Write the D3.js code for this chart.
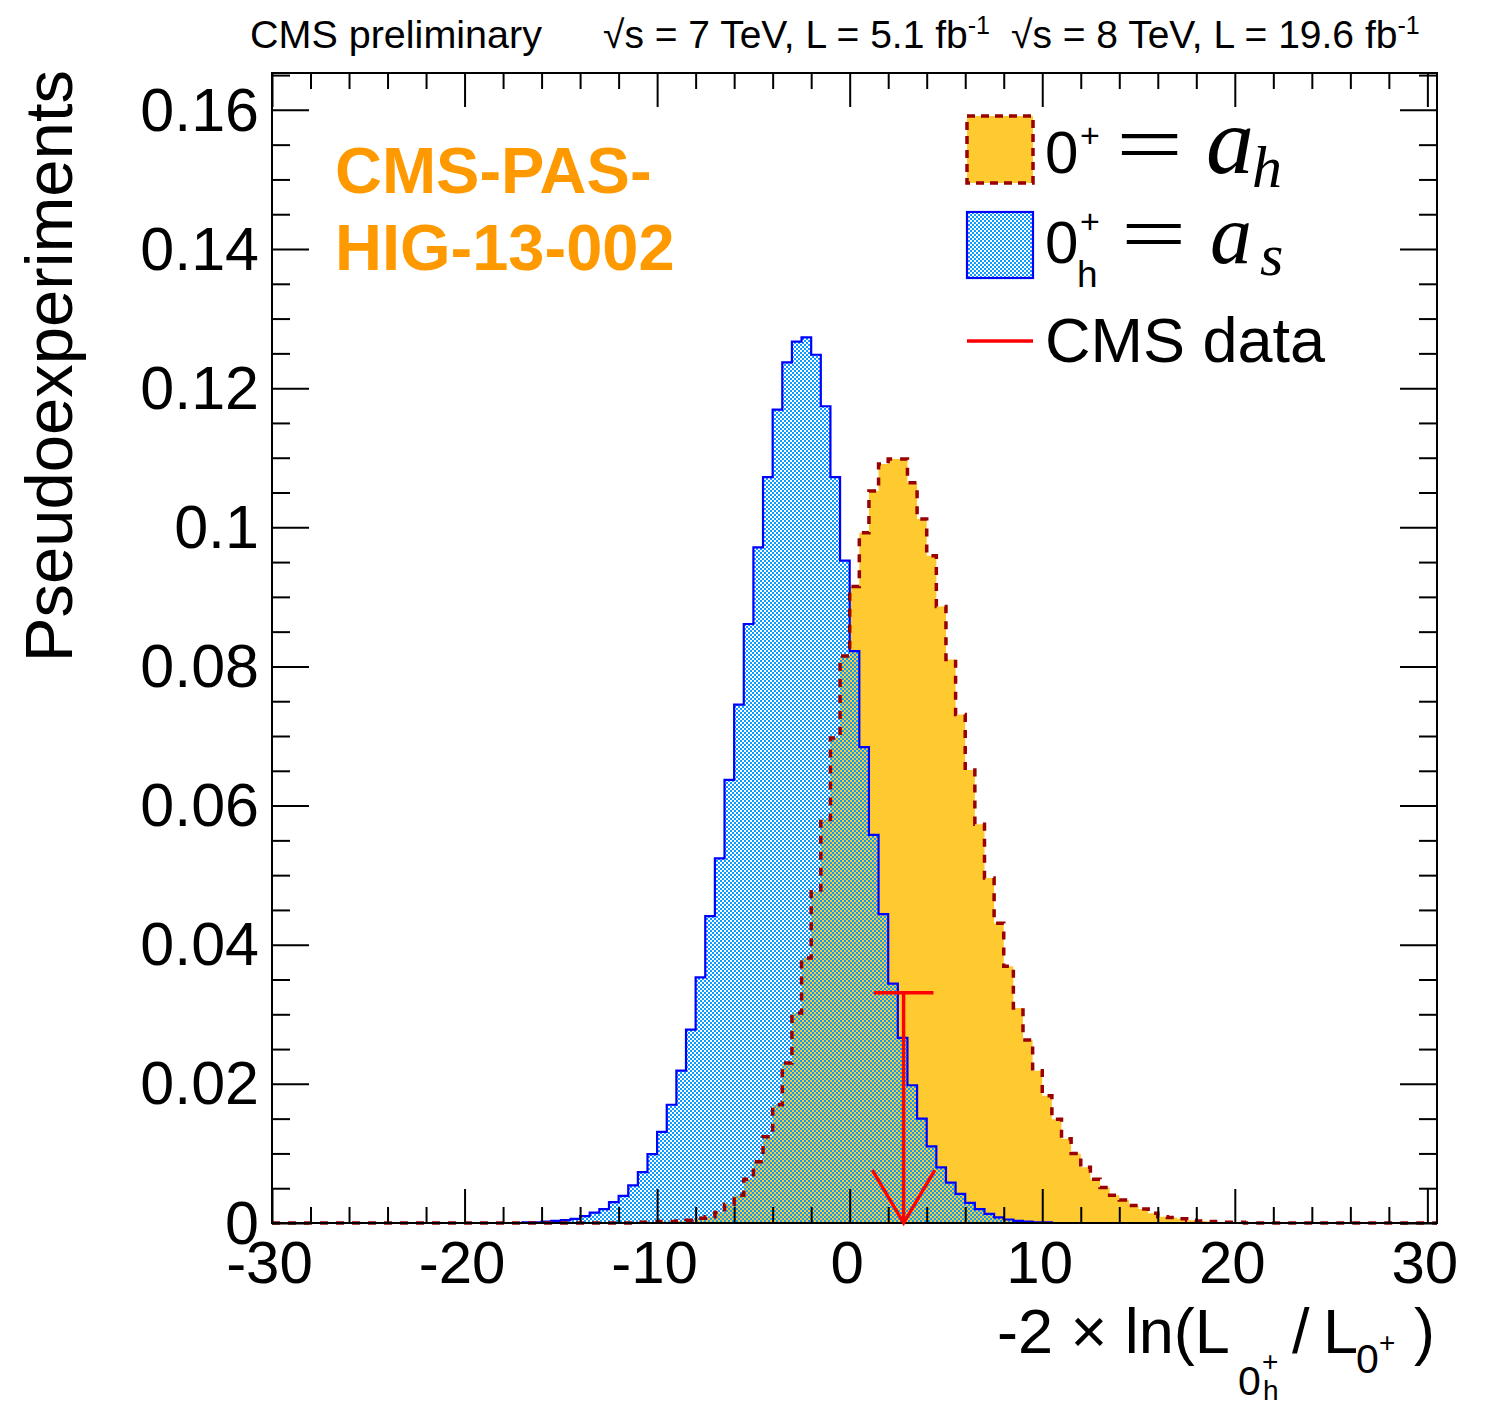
<!DOCTYPE html>
<html lang="en">
<head>
<meta charset="utf-8">
<script src="https://d3js.org/d3.v7.min.js"></script>
<title>Pseudoexperiments</title>
<style>
  body { margin: 0; background: #fff; }
  text { font-family: "Liberation Sans", Helvetica, Arial, sans-serif; }
  .math { font-family: "Liberation Serif", "DejaVu Serif", serif; font-style: italic; }
</style>
</head>
<body>
<div id="chart"></div>
<script>
// histogram binning (0.5 wide bins)
var binWidth = 0.5;

// 0h+ = a_s  (blue), first bin starts at -17
var blueStart = -17;
var blueValues = [0.0001, 0.0001, 0.0002, 0.0003, 0.0004, 0.0006, 0.0010, 0.0015, 0.0020, 0.0030,
  0.0039, 0.0054, 0.0073, 0.0099, 0.0131, 0.0170, 0.0219, 0.0278, 0.0353, 0.0441,
  0.0524, 0.0637, 0.0745, 0.0861, 0.0971, 0.1072, 0.1169, 0.1237, 0.1267, 0.1273,
  0.1248, 0.1174, 0.1072, 0.0952, 0.0822, 0.0684, 0.0558, 0.0444, 0.0344, 0.0266,
  0.0198, 0.0150, 0.0110, 0.0080, 0.0058, 0.0042, 0.0029, 0.0020, 0.0013, 0.0008,
  0.0005, 0.0003, 0.0002, 0.0001, 0.0001];

// 0+ = a_h  (orange), first bin starts at -11
var orangeStart = -11;
var orangeValues = [0.0001, 0.0001, 0.0002, 0.0002, 0.0003, 0.0004, 0.0007, 0.0009, 0.0015, 0.0027,
  0.0040, 0.0063, 0.0088, 0.0124, 0.0170, 0.0230, 0.0302, 0.0381, 0.0476, 0.0580,
  0.0697, 0.0815, 0.0915, 0.0992, 0.1052, 0.1091, 0.1098, 0.1098, 0.1064, 0.1012,
  0.0959, 0.0886, 0.0810, 0.0731, 0.0651, 0.0573, 0.0496, 0.0431, 0.0369, 0.0309,
  0.0263, 0.0219, 0.0183, 0.0149, 0.0121, 0.0100, 0.0080, 0.0063, 0.0051, 0.0040,
  0.0033, 0.0025, 0.0020, 0.0014, 0.0009, 0.0008, 0.0006, 0.0004, 0.0003, 0.0002,
  0.0001, 0.0001, 0.0001];

// observed CMS value and the arrow drawn for it
var dataValue = 2.8;
var arrowTop = 0.0331;
var arrowBarHalf = 1.55;
var arrowHeadY = 0.0076;
var arrowHeadHalf = 1.62;

var xMajor = [-30, -20, -10, 0, 10, 20, 30];
var xMinor = [-28, -26, -24, -22, -18, -16, -14, -12, -8, -6, -4, -2, 2, 4, 6, 8, 12, 14, 16, 18, 22, 24, 26, 28];
var yMajor = [0, 0.02, 0.04, 0.06, 0.08, 0.1, 0.12, 0.14, 0.16];
var yMinor = d3.range(0, 0.166, 0.005).filter(function(v) { return Math.abs(v / 0.02 - Math.round(v / 0.02)) > 1e-6; });

var W = 1487, H = 1405;
var frame = {left: 272, right: 1437, top: 73, bottom: 1223};

var svg = d3.select("#chart").append("svg")
  .attr("width", W).attr("height", H);

var x = d3.scaleLinear().domain([-30, 30.5]).range([frame.left, frame.right]);
var y = d3.scaleLinear().domain([0, 0.1653]).range([frame.bottom, frame.top]);

// checkered fill: half the cells blue, the rest let the background through
var defs = svg.append("defs");
var pat = defs.append("pattern").attr("id", "dots")
  .attr("patternUnits", "userSpaceOnUse").attr("width", 4).attr("height", 4);
pat.append("rect").attr("x", 0).attr("y", 0).attr("width", 2).attr("height", 2)
  .attr("fill", "#0a9dff").attr("shape-rendering", "crispEdges");
pat.append("rect").attr("x", 2).attr("y", 2).attr("width", 2).attr("height", 2)
  .attr("fill", "#0a9dff").attr("shape-rendering", "crispEdges");

function stepPoints(start, values) {
  var pts = [[x.domain()[0], 0], [start, 0]];
  values.forEach(function(v, i) {
    var lo = start + i * binWidth;
    pts.push([lo, v]);
    pts.push([lo + binWidth, v]);
  });
  var end = start + values.length * binWidth;
  pts.push([end, 0]);
  pts.push([x.domain()[1], 0]);
  return pts;
}

var line = d3.line().x(function(d) { return x(d[0]); }).y(function(d) { return y(d[1]); });

var orangePts = stepPoints(orangeStart, orangeValues);
var bluePts = stepPoints(blueStart, blueValues);

svg.append("path").attr("d", line(orangePts) + "Z").attr("fill", "#ffca30").attr("stroke", "none");
svg.append("path").attr("d", line(bluePts) + "Z").attr("fill", "url(#dots)").attr("stroke", "none");
svg.append("path").attr("d", line(bluePts)).attr("fill", "none")
  .attr("stroke", "#0000ff").attr("stroke-width", 2.2);
svg.append("path").attr("d", line(orangePts)).attr("fill", "none")
  .attr("stroke", "#990000").attr("stroke-width", 3.5).attr("stroke-dasharray", "8,8");

// axes
function styleAxis(g) {
  g.select(".domain").remove();
  g.selectAll(".tick line").attr("stroke", "#000").attr("stroke-width", 2);
  g.selectAll("text").attr("fill", "#000").style("font-family", "'Liberation Sans', Helvetica, Arial, sans-serif");
}

svg.append("g").attr("transform", "translate(0," + frame.bottom + ")")
  .call(d3.axisBottom(x).tickValues(xMajor).tickSize(-34).tickPadding(17)
    .tickFormat(function(d) { return String(d); }))
  .call(styleAxis)
  .selectAll("text").style("font-size", "60px").attr("dx", "-3");
svg.append("g").attr("transform", "translate(0," + frame.bottom + ")")
  .call(d3.axisBottom(x).tickValues(xMinor).tickSize(-16).tickFormat(""))
  .call(styleAxis);
svg.append("g").attr("transform", "translate(0," + frame.top + ")")
  .call(d3.axisTop(x).tickValues(xMajor).tickSize(-34).tickFormat(""))
  .call(styleAxis);
svg.append("g").attr("transform", "translate(0," + frame.top + ")")
  .call(d3.axisTop(x).tickValues(xMinor).tickSize(-16).tickFormat(""))
  .call(styleAxis);

svg.append("g").attr("transform", "translate(" + frame.left + ",0)")
  .call(d3.axisLeft(y).tickValues(yMajor).tickSize(-37).tickPadding(13)
    .tickFormat(function(d) { return String(d); }))
  .call(styleAxis)
  .selectAll("text").style("font-size", "61px").attr("dy", "0.33em");
svg.append("g").attr("transform", "translate(" + frame.left + ",0)")
  .call(d3.axisLeft(y).tickValues(yMinor).tickSize(-18).tickFormat(""))
  .call(styleAxis);
svg.append("g").attr("transform", "translate(" + frame.right + ",0)")
  .call(d3.axisRight(y).tickValues(yMajor).tickSize(-37).tickFormat(""))
  .call(styleAxis);
svg.append("g").attr("transform", "translate(" + frame.right + ",0)")
  .call(d3.axisRight(y).tickValues(yMinor).tickSize(-18).tickFormat(""))
  .call(styleAxis);

svg.append("rect")
  .attr("x", frame.left).attr("y", frame.top)
  .attr("width", frame.right - frame.left).attr("height", frame.bottom - frame.top)
  .attr("fill", "none").attr("stroke", "#000").attr("stroke-width", 2);

// CMS data arrow
var arrow = svg.append("g").attr("stroke", "#ff0000").attr("stroke-width", 3.4).attr("fill", "none");
arrow.append("line")
  .attr("x1", x(dataValue - arrowBarHalf)).attr("x2", x(dataValue + arrowBarHalf))
  .attr("y1", y(arrowTop)).attr("y2", y(arrowTop));
arrow.append("line")
  .attr("x1", x(dataValue)).attr("x2", x(dataValue))
  .attr("y1", y(arrowTop)).attr("y2", y(0));
arrow.append("path")
  .attr("d", d3.line()([[x(dataValue - arrowHeadHalf), y(arrowHeadY)], [x(dataValue), y(0)],
                        [x(dataValue + arrowHeadHalf), y(arrowHeadY)]]));

// header
svg.append("text").attr("x", 250).attr("y", 48).style("font-size", "39.5px").text("CMS preliminary");
var hdr1 = svg.append("text").attr("x", 603).attr("y", 48).style("font-size", "39px");
hdr1.append("tspan").text("\u221As = 7 TeV, L = 5.1 fb");
hdr1.append("tspan").attr("dy", -14).style("font-size", "25px").text("-1");
var hdr2 = svg.append("text").attr("x", 1011).attr("y", 48).style("font-size", "39px");
hdr2.append("tspan").text("\u221As = 8 TeV, L = 19.6 fb");
hdr2.append("tspan").attr("dy", -14).style("font-size", "25px").text("-1");

// y axis title
svg.append("text")
  .attr("transform", "translate(72,70) rotate(-90)")
  .attr("text-anchor", "end")
  .style("font-size", "67px")
  .text("Pseudoexperiments");

// x axis title
svg.append("text").attr("x", 997).attr("y", 1353).style("font-size", "63px").text("-2 \u00d7 ln(L");
svg.append("text").attr("x", 1238).attr("y", 1395).style("font-size", "41px").text("0");
svg.append("text").attr("x", 1262).attr("y", 1371).style("font-size", "28px").text("+");
svg.append("text").attr("x", 1263).attr("y", 1400).style("font-size", "28px").text("h");
svg.append("text").attr("x", 1292).attr("y", 1353).style("font-size", "63px").text("/");
svg.append("text").attr("x", 1323).attr("y", 1353).style("font-size", "63px").text("L");
svg.append("text").attr("x", 1356).attr("y", 1373).style("font-size", "41px").text("0");
svg.append("text").attr("x", 1379).attr("y", 1352).style("font-size", "28px").text("+");
svg.append("text").attr("x", 1414).attr("y", 1353).style("font-size", "63px").text(")");

// CMS-PAS label
svg.append("text").attr("x", 335).attr("y", 193).style("font-size", "65px").style("font-weight", "bold")
  .attr("fill", "#ff9900").text("CMS-PAS-");
svg.append("text").attr("x", 335).attr("y", 270).style("font-size", "65px").style("font-weight", "bold")
  .attr("fill", "#ff9900").text("HIG-13-002");

// legend
var leg = svg.append("g");
leg.append("rect").attr("x", 967).attr("y", 116).attr("width", 66).attr("height", 67)
  .attr("fill", "#ffca30").attr("stroke", "#990000").attr("stroke-width", 3.5).attr("stroke-dasharray", "8,6");
leg.append("rect").attr("x", 967).attr("y", 212).attr("width", 66).attr("height", 66)
  .attr("fill", "url(#dots)").attr("stroke", "#0000ff").attr("stroke-width", 2.2);
leg.append("line").attr("x1", 967).attr("x2", 1033).attr("y1", 341).attr("y2", 341)
  .attr("stroke", "#ff0000").attr("stroke-width", 3.4);

leg.append("text").attr("x", 1045).attr("y", 173).style("font-size", "60px").text("0");
leg.append("text").attr("x", 1080).attr("y", 147).style("font-size", "34px").text("+");
leg.append("text").attr("x", 1116).attr("y", 172).style("font-size", "82px")
  .attr("transform", "translate(1116,0) scale(1.45,1) translate(-1116,0)")
  .style("font-family", "'Liberation Serif', serif").text("=");
leg.append("text").attr("class", "math").attr("x", 1206).attr("y", 173).style("font-size", "96px").text("a");
leg.append("text").attr("class", "math").attr("x", 1252).attr("y", 187).style("font-size", "60px").text("h");

leg.append("text").attr("x", 1045).attr("y", 263).style("font-size", "60px").text("0");
leg.append("text").attr("x", 1080).attr("y", 233).style("font-size", "34px").text("+");
leg.append("text").attr("x", 1077).attr("y", 287).style("font-size", "37px").text("h");
leg.append("text").attr("x", 1121).attr("y", 261).style("font-size", "80px")
  .attr("transform", "translate(1121,0) scale(1.45,1) translate(-1121,0)")
  .style("font-family", "'Liberation Serif', serif").text("=");
leg.append("text").attr("class", "math").attr("x", 1210).attr("y", 263).style("font-size", "84px").text("a");
leg.append("text").attr("class", "math").attr("x", 1260).attr("y", 275).style("font-size", "60px").text("s");

leg.append("text").attr("x", 1045).attr("y", 362).style("font-size", "63px").text("CMS data");
</script>
</body>
</html>
